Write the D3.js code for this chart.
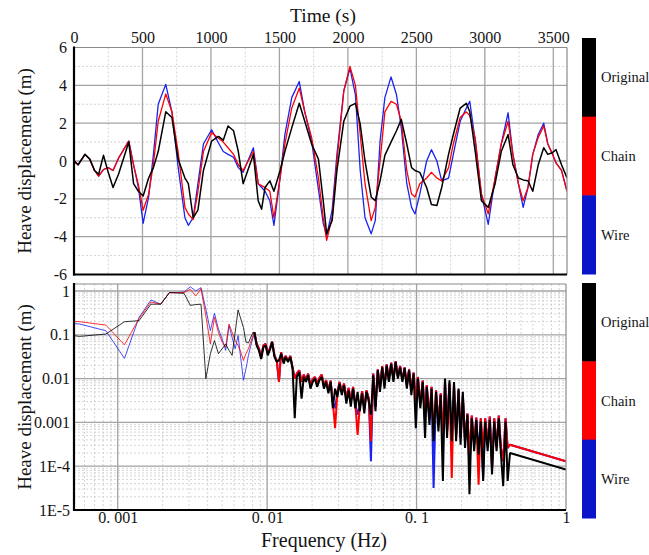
<!DOCTYPE html>
<html>
<head>
<meta charset="utf-8">
<script src="https://cdn.jsdelivr.net/npm/d3@7"></script>
<style>
  body { margin: 0; background: #fff; }
  svg text { font-family: "Liberation Serif", "Times New Roman", "DejaVu Serif", serif; fill: #141414; }
</style>
</head>
<body>
<svg id="chart" width="649" height="555"></svg>
<script>
// ---- time series (heave, m) ----
const times = [0, 30, 80, 115, 150, 180, 215, 250, 285, 325,
  400, 435, 470, 505, 545, 580, 615, 670, 715, 760,
  810, 835, 870, 905, 945, 1005, 1055, 1090, 1125, 1165,
  1200, 1235, 1310, 1345, 1370, 1395, 1430, 1460, 1505, 1540,
  1590, 1645, 1685, 1735, 1785, 1820, 1845, 1885, 1920, 1970,
  2015, 2055, 2090, 2125, 2170, 2200, 2235, 2270, 2315, 2355,
  2390, 2430, 2465, 2490, 2525, 2575, 2610, 2650, 2685, 2735,
  2770, 2820, 2865, 2890, 2930, 2975, 3025, 3075, 3120, 3170,
  3205, 3245, 3280, 3315, 3350, 3390, 3430, 3460, 3495, 3520,
  3560, 3600];

const wireHeave = [0, -0.2, 0.35, 0.1, -0.5, -0.8, -0.45, -0.35, -0.5, 0.15,
  1.05, -0.2, -1.4, -3.3, -1.9, 0.35, 3.0, 4.05, 2.6, -0.3,
  -3.0, -3.4, -3.0, -1.2, 0.9, 1.65, 0.95, 0.5, 0.35, 0.2,
  -0.35, -0.6, 0.7, -1.2, -1.4, -1.6, -2.1, -3.4, -0.9, 1.4,
  3.35, 4.2, 2.6, 1.05, -1.5, -3.3, -3.95, -2.6, 0.35, 3.7,
  4.9, 3.5, -0.5, -3.0, -3.85, -3.15, 1.05, 3.35, 4.45, 3.5,
  1.75, -1.2, -2.45, -2.8, -1.75, 0, 0.6, 0, -1.05, -0.9,
  0.35, 2.1, 2.8, 3.15, 1.05, -1.75, -3.35, -0.9, 0.9, 2.55,
  0.35, -1.2, -2.45, -1.4, 0.35, 1.4, 2.0, 0.9, 0.35, -0.1,
  -0.5, -1.6];

const chainHeave = [0, -0.2, 0.35, 0.1, -0.5, -0.8, -0.45, -0.35, -0.5, 0.15,
  1.05, -0.2, -1.25, -2.6, -1.75, -0.15, 2.1, 3.55, 2.6, 0.5,
  -2.45, -2.8, -3.1, -1.6, 0.5, 1.5, 1.2, 1.0, 0.7, 0.35,
  -0.2, -0.5, 0.5, -1.2, -1.3, -1.4, -1.6, -3.0, -0.9, 0.9,
  2.8, 3.85, 2.6, 1.25, -0.9, -3.0, -4.2, -3.0, 0, 3.7,
  5.0, 4.0, 1.4, -1.2, -3.15, -2.45, 0, 2.6, 3.15, 3.0,
  2.1, -0.5, -1.75, -1.9, -1.2, -0.9, -0.6, -0.9, -1.05, -0.35,
  0.9, 2.3, 2.6, 2.4, 1.2, -1.75, -2.8, -0.9, 0.9, 2.1,
  0.35, -1.2, -2.1, -1.4, 0.35, 1.25, 1.85, 0.9, 0.35, -0.1,
  -0.5, -1.6];

const originalHeave = [0, -0.2, 0.35, 0.1, -0.5, -0.7, 0.3, -0.6, -1.4, -0.7,
  1.0, -1.2, -1.6, -1.85, -0.9, -0.35, 0.5, 2.6, 2.3, 0.1,
  -0.9, -1.2, -3.0, -2.6, -0.5, 1.05, 1.3, 1.1, 1.85, 1.6,
  0.5, -1.2, 0.35, -2.1, -2.55, -1.4, -1.05, -1.6, -0.5, 0.5,
  1.75, 3.05, 2.1, 0.9, 0.1, -2.1, -3.85, -3.15, -0.5, 2.1,
  2.9, 3.05, 1.95, 0, -1.9, -2.1, -1.05, 0.3, 1.0, 1.6,
  2.2, 0.9, -0.35, -0.5, -0.6, -1.4, -2.3, -2.35, -1.4, 0.35,
  1.4, 2.8, 3.05, 2.6, 0.5, -2.1, -2.45, -1.2, 0.5, 1.4,
  -0.2, -0.9, -1.0, -1.05, -1.6, -0.2, 0.7, 0.35, 0.45, 0.6,
  -0.2, -0.9];

// ---- spectra (Hz, m) ----
const freqs = [0.000278, 0.000556, 0.000833, 0.00111, 0.00139, 0.00167, 0.00194, 0.00222, 0.0025, 0.00278,
  0.00306, 0.00333, 0.00361, 0.00389, 0.00417, 0.00444, 0.00472, 0.005, 0.00528, 0.00556,
  0.00583, 0.00611, 0.00639, 0.00667, 0.00694, 0.00722, 0.0075, 0.00778, 0.00806,
  0.00822, 0.00851, 0.00881, 0.00912, 0.00944, 0.00977, 0.0101, 0.0105, 0.0108, 0.0112,
  0.0116, 0.0120, 0.0124, 0.0129, 0.0133, 0.0138, 0.0143, 0.0148, 0.0153, 0.0158,
  0.0164, 0.0170, 0.0176, 0.0182, 0.0188, 0.0195, 0.0202, 0.0209, 0.0216, 0.0224,
  0.0232, 0.0240, 0.0248, 0.0257, 0.0266, 0.0275, 0.0285, 0.0295, 0.0305, 0.0316,
  0.0327, 0.0339, 0.0351, 0.0363, 0.0376, 0.0389, 0.0403, 0.0417, 0.0432, 0.0447,
  0.0462, 0.0479, 0.0495, 0.0513, 0.0531, 0.0550, 0.0569, 0.0589, 0.0610, 0.0631,
  0.0653, 0.0676, 0.0700, 0.0724, 0.0750, 0.0776, 0.0804, 0.0832, 0.0861, 0.0891,
  0.0923, 0.0955, 0.0989, 0.102, 0.106, 0.110, 0.114, 0.117, 0.122, 0.126,
  0.130, 0.135, 0.140, 0.145, 0.150, 0.155, 0.160, 0.166, 0.172, 0.178,
  0.184, 0.191, 0.197, 0.204, 0.211, 0.219, 0.226, 0.234, 0.243, 0.251,
  0.260, 0.269, 0.279, 0.288, 0.299, 0.309, 0.320, 0.331, 0.343, 0.355,
  0.367, 0.380, 0.394, 0.407, 0.422, 1.0];

const originalSpec = [0.124, 0.092, 0.104, 0.199, 0.21, 0.50, 0.50, 0.92, 0.90, 0.885,
  0.47, 0.49, 0.50, 0.010, 0.037, 0.074, 0.037, 0.048, 0.062, 0.044,
  0.034, 0.114, 0.37, 0.228, 0.148, 0.068, 0.065, 0.088, 0.114,
  0.114, 0.057, 0.044, 0.028, 0.052, 0.057, 0.034, 0.048, 0.068, 0.031,
  0.024, 0.026, 0.037, 0.022, 0.031, 0.024, 0.031, 0.0168, 0.00124, 0.0109,
  0.014, 0.0035, 0.0109, 0.0084, 0.0119, 0.0059, 0.0084, 0.010, 0.0065, 0.0092,
  0.0109, 0.0059, 0.0084, 0.0046, 0.0084, 0.0021, 0.0059, 0.0038, 0.0077, 0.0042,
  0.0071, 0.0027, 0.0054, 0.0023, 0.0059, 0.0021, 0.0050, 0.0018, 0.0046, 0.0016,
  0.0050, 0.0030, 0.0015, 0.0119, 0.0018, 0.0155, 0.0050, 0.018, 0.0059, 0.020,
  0.0084, 0.022, 0.0084, 0.024, 0.010, 0.018, 0.0084, 0.0174, 0.0059, 0.0155,
  0.0042, 0.013, 7.4e-4, 0.010, 0.0021, 0.0084, 4.4e-4, 0.0065, 8.8e-4, 0.0059,
  3.7e-4, 0.0050, 6.2e-4, 0.0042, 4.6e-5, 0.010, 4.4e-4, 0.0092, 3.7e-4, 0.0084,
  3.7e-4, 0.0059, 3.1e-4, 0.0050, 2.6e-4, 0.0015, 2.3e-5, 0.00124, 2.2e-4, 0.00114,
  1.84e-4, 0.00105, 4.6e-5, 0.00105, 2.2e-4, 0.00114, 6.5e-5, 0.00105, 2.2e-4, 0.00124,
  1.84e-4, 3.5e-5, 0.00105, 4.6e-5, 2.0e-4, 8.4e-5];

const chainSpec = [0.228, 0.199, 0.167, 0.059, 0.236, 0.56, 0.50, 0.92, 0.92, 0.92,
  1.09, 0.77, 1.13, 0.27, 0.062, 0.25, 0.114, 0.068, 0.052, 0.176,
  0.114, 0.074, 0.057, 0.040, 0.026, 0.037, 0.048, 0.070, 0.096,
  0.114, 0.062, 0.048, 0.031, 0.057, 0.062, 0.037, 0.052, 0.070, 0.034,
  0.026, 0.0084, 0.040, 0.024, 0.033, 0.026, 0.033, 0.018, 0.010, 0.013,
  0.0155, 0.0084, 0.0123, 0.0092, 0.013, 0.0071, 0.0097, 0.0109, 0.0077, 0.0104,
  0.0123, 0.0068, 0.0092, 0.0054, 0.0090, 0.0030, 7.4e-4, 0.0046, 0.0084, 0.0050,
  0.0077, 0.0035, 0.0061, 0.0030, 0.0065, 0.0027, 5.2e-4, 0.0023, 0.0052, 0.0021,
  0.0054, 0.0035, 3.7e-4, 0.013, 0.0023, 0.0163, 0.0059, 0.0194, 0.0071, 0.0211,
  0.0092, 0.023, 0.0097, 0.0247, 0.0109, 0.0194, 0.0092, 0.018, 0.0071, 0.0163,
  0.0054, 0.0137, 0.0030, 0.0109, 0.0027, 0.0090, 0.00105, 0.0071, 0.00124, 0.0065,
  5.2e-4, 0.0054, 8.8e-4, 0.0046, 4.4e-4, 0.0084, 6.2e-4, 0.0077, 5.4e-5, 0.0071,
  5.2e-4, 0.0054, 4.4e-4, 0.0042, 3.7e-4, 0.0016, 1.84e-4, 0.00143, 3.1e-4, 0.00129,
  3.8e-5, 0.00124, 2.6e-4, 0.00124, 3.1e-4, 0.00136, 9.2e-5, 0.00124, 2.8e-4, 0.00143,
  2.6e-4, 1.3e-4, 0.00124, 2.6e-4, 3.1e-4, 1.3e-4];

const wireSpec = [0.22, 0.176, 0.124, 0.029, 0.25, 0.625, 0.50, 0.92, 0.92, 0.95,
  1.25, 1.0, 1.19, 0.385, 0.124, 0.31, 0.136, 0.080, 0.044, 0.161,
  0.088, 0.048, 0.096, 0.028, 0.0092, 0.0168, 0.034, 0.057, 0.088,
  0.114, 0.062, 0.048, 0.031, 0.057, 0.062, 0.037, 0.052, 0.070, 0.034,
  0.026, 0.0084, 0.040, 0.024, 0.033, 0.026, 0.033, 0.018, 0.010, 0.013,
  0.0155, 0.0084, 0.0123, 0.0092, 0.013, 0.0071, 0.0097, 0.0109, 0.0077, 0.0104,
  0.0123, 0.0068, 0.0092, 0.0054, 0.0090, 0.0030, 0.0021, 0.0046, 0.0084, 0.0050,
  0.0077, 0.0035, 0.0061, 0.0030, 0.0065, 0.0027, 0.0015, 0.0023, 0.0052, 0.0021,
  0.0054, 0.0035, 1.3e-4, 0.013, 0.0023, 0.0163, 0.0059, 0.0194, 0.0071, 0.0211,
  0.0092, 0.023, 0.0097, 0.0247, 0.0109, 0.0194, 0.0092, 0.018, 0.0071, 0.0163,
  0.0054, 0.0137, 0.0030, 0.0109, 0.0027, 0.0090, 0.00105, 0.0071, 0.00124, 0.0065,
  3.2e-5, 0.0054, 8.8e-4, 0.0046, 2.6e-4, 0.0084, 6.2e-4, 0.0077, 3.7e-4, 0.0071,
  5.2e-4, 0.0054, 4.4e-4, 0.0042, 3.7e-4, 0.0016, 9.2e-5, 0.00143, 3.1e-4, 0.00129,
  1.84e-4, 0.00124, 5.4e-5, 0.00124, 3.1e-4, 0.00136, 9.2e-5, 0.00124, 2.8e-4, 0.00143,
  2.6e-4, 1.3e-4, 0.00124, 2.6e-4, 3.1e-4, 1.3e-4];

const legendNames = ["Original", "Chain", "Wire"];
const legendColors = ["#000000", "#ff0000", "#0a14c8"];
const lineColors = { Wire: "#1a22ee", Chain: "#ff0000", Original: "#000000" };

const yTickLabels = { 1: "1", 0.1: "0.1", 0.01: "0.01", 0.001: "0.001", 1e-4: "1E-4", 1e-5: "1E-5" };
const xTickLabels = { 0.001: "0. 001", 0.01: "0. 01", 0.1: "0. 1", 1: "1" };

const serif = '"Liberation Serif", "Times New Roman", "DejaVu Serif", serif';
const svg = d3.select("#chart").style("font-family", serif);

// ---------- top panel ----------
const boxT = { l: 74, r: 567, t: 47.5, b: 274.5 };
const xT = d3.scaleLinear().domain([0, 3600]).range([boxT.l, boxT.r]);
const yT = d3.scaleLinear().domain([-6, 6]).range([boxT.b, boxT.t]);

// ---------- bottom panel ----------
const boxB = { l: 74, r: 566, t: 284, b: 510 };
const xB = d3.scaleLog().domain([5.1e-4, 1]).range([boxB.l, boxB.r]);
const yB = d3.scaleLog().domain([1e-5, 1.445]).range([boxB.b, boxB.t]);

const minorCol = "#c9c9c9", majorCol = "#a3a3a3";

function grid(g, xs, ys, xMinor, xMajor, yMinor, yMajor, box) {
  g.selectAll(null).data(xMinor).join("line")
    .attr("x1", d => xs(d)).attr("x2", d => xs(d)).attr("y1", box.t).attr("y2", box.b)
    .attr("stroke", minorCol).attr("stroke-width", 0.8).attr("stroke-dasharray", "2,2");
  g.selectAll(null).data(yMinor).join("line")
    .attr("y1", d => ys(d)).attr("y2", d => ys(d)).attr("x1", box.l).attr("x2", box.r)
    .attr("stroke", minorCol).attr("stroke-width", 0.8).attr("stroke-dasharray", "2,2");
  g.selectAll(null).data(xMajor).join("line")
    .attr("x1", d => xs(d)).attr("x2", d => xs(d)).attr("y1", box.t).attr("y2", box.b)
    .attr("stroke", majorCol).attr("stroke-width", 1.3);
  g.selectAll(null).data(yMajor).join("line")
    .attr("y1", d => ys(d)).attr("y2", d => ys(d)).attr("x1", box.l).attr("x2", box.r)
    .attr("stroke", majorCol).attr("stroke-width", 1.3);
}

// top grid
grid(svg.append("g"), xT, yT,
  d3.range(250, 3600, 500), d3.range(500, 3600, 500),
  [-5, -3, -1, 1, 3, 5], [-4, -2, 0, 2, 4], boxT);

// bottom grid (log minors)
const decX = [1e-4, 1e-3, 1e-2, 1e-1];
const minX = [];
decX.forEach(d => d3.range(2, 10).forEach(m => { const v = m * d; if (v > 5.1e-4 && v < 1) minX.push(v); }));
const decY = [1e-5, 1e-4, 1e-3, 1e-2, 1e-1, 1];
const minY = [];
decY.forEach(d => d3.range(2, 10).forEach(m => { const v = m * d; if (v < 1.445) minY.push(v); }));
grid(svg.append("g"), xB, yB, minX, [0.001, 0.01, 0.1], minY, [1e-4, 1e-3, 1e-2, 0.1, 1], boxB);

// clips
svg.append("clipPath").attr("id", "clipT").append("rect")
  .attr("x", boxT.l).attr("y", boxT.t).attr("width", boxT.r - boxT.l).attr("height", boxT.b - boxT.t);
svg.append("clipPath").attr("id", "clipB").append("rect")
  .attr("x", boxB.l).attr("y", boxB.t).attr("width", boxB.r - boxB.l).attr("height", boxB.b - boxB.t);

// top lines
const lineT = d3.line().x(d => xT(d[0])).y(d => yT(d[1]));
const gT = svg.append("g").attr("clip-path", "url(#clipT)");
[["Wire", wireHeave, 1.3], ["Chain", chainHeave, 1.3], ["Original", originalHeave, 1.5]].forEach(([name, vals, w]) => {
  gT.append("path")
    .datum(times.map((t, i) => [t, vals[i]]))
    .attr("d", lineT)
    .attr("fill", "none")
    .attr("stroke", lineColors[name])
    .attr("stroke-width", w)
    .attr("stroke-linejoin", "round");
});

// bottom lines: sparse low-frequency part thin, dense part heavier
const lineB = d3.line().x(d => xB(d[0])).y(d => yB(d[1]));
const gB = svg.append("g").attr("clip-path", "url(#clipB)");
const split = 29;
[["Wire", wireSpec], ["Chain", chainSpec], ["Original", originalSpec]].forEach(([name, vals]) => {
  const pts = freqs.map((f, i) => [f, vals[i]]);
  gB.append("path")
    .datum(pts.slice(0, split + 1))
    .attr("d", lineB)
    .attr("fill", "none")
    .attr("stroke", lineColors[name])
    .attr("stroke-width", 1)
    .attr("stroke-opacity", 0.8);
  gB.append("path")
    .datum(pts.slice(split))
    .attr("d", lineB)
    .attr("fill", "none")
    .attr("stroke", lineColors[name])
    .attr("stroke-width", 2)
    .attr("stroke-linejoin", "bevel");
});

// frames
function frame(box) {
  const g = svg.append("g");
  g.append("line").attr("x1", box.l).attr("x2", box.r).attr("y1", box.t).attr("y2", box.t).attr("stroke", "#8a8a8a").attr("stroke-width", 1.2);
  g.append("line").attr("x1", box.r).attr("x2", box.r).attr("y1", box.t).attr("y2", box.b).attr("stroke", "#8a8a8a").attr("stroke-width", 1.2);
  g.append("line").attr("x1", box.l).attr("x2", box.l).attr("y1", box.t - 1).attr("y2", box.b + 1).attr("stroke", "#000").attr("stroke-width", 2.2);
  g.append("line").attr("x1", box.l - 1).attr("x2", box.r).attr("y1", box.b).attr("y2", box.b).attr("stroke", "#000").attr("stroke-width", 2.2);
}
frame(boxT);
frame(boxB);

// axes (labels only)
function styleAxis(g) {
  g.attr("font-family", null).attr("font-size", null);
  g.select(".domain").remove();
  g.selectAll(".tick line").remove();
  g.selectAll("text").attr("fill", "#141414")
    .style("font-family", serif).style("font-size", "16px");
}
svg.append("g").attr("transform", `translate(0,${boxT.t})`)
  .call(d3.axisTop(xT).tickValues(d3.range(0, 3600, 500)).tickSize(0).tickPadding(4.5).tickFormat(d3.format("d")))
  .call(styleAxis);
svg.append("g").attr("transform", `translate(${boxT.l},0)`)
  .call(d3.axisLeft(yT).tickValues(d3.range(-6, 7, 2)).tickSize(0).tickPadding(7).tickFormat(d => d < 0 ? "-" + Math.abs(d) : d))
  .call(styleAxis);
svg.append("g").attr("transform", `translate(0,${boxB.b})`)
  .call(d3.axisBottom(xB).tickValues([0.001, 0.01, 0.1, 1]).tickSize(0).tickPadding(2).tickFormat(d => xTickLabels[d]))
  .call(styleAxis);
svg.append("g").attr("transform", `translate(${boxB.l},0)`)
  .call(d3.axisLeft(yB).tickValues([1, 0.1, 0.01, 0.001, 1e-4, 1e-5]).tickSize(0).tickPadding(4).tickFormat(d => yTickLabels[d]))
  .call(styleAxis);

// axis titles
svg.append("text").attr("x", 323).attr("y", 22).attr("text-anchor", "middle")
  .style("font-size", "19.5px").text("Time (s)");
svg.append("text").attr("x", 324).attr("y", 547).attr("text-anchor", "middle")
  .style("font-size", "20px").text("Frequency (Hz)");
[(boxT.t + boxT.b) / 2, (boxB.t + boxB.b) / 2].forEach(cy => {
  svg.append("text").attr("transform", `translate(31,${cy}) rotate(-90)`)
    .attr("text-anchor", "middle").style("font-size", "19px").text("Heave displacement (m)");
});

// colour-bar legends
function legend(y0, y1) {
  const ys = d3.scaleBand().domain(legendNames).range([y0, y1]);
  const g = svg.append("g");
  g.selectAll("rect").data(legendNames).join("rect")
    .attr("x", 582).attr("width", 14)
    .attr("y", d => ys(d)).attr("height", ys.bandwidth() + 0.5)
    .attr("fill", (d, i) => legendColors[i]);
  g.selectAll("text").data(legendNames).join("text")
    .attr("x", 601).attr("y", d => ys(d) + ys.bandwidth() / 2)
    .attr("dy", "0.35em").style("font-size", "14.5px").text(d => d);
}
legend(38, 274);
legend(283, 518);
</script>
</body>
</html>
